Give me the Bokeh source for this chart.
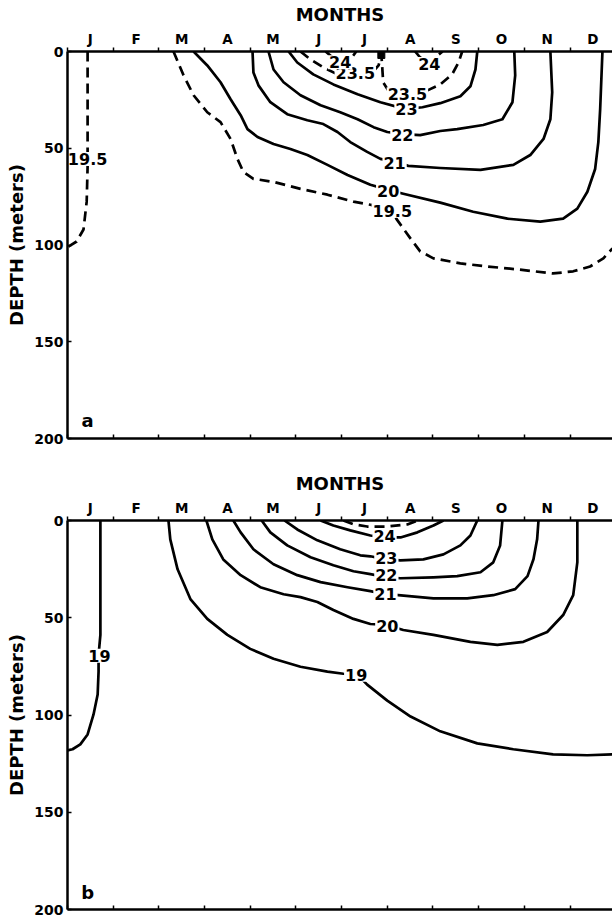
from bokeh.plotting import figure
from bokeh.models import Range1d, LinearAxis, FixedTicker, ColumnDataSource
from bokeh.layouts import column
from bokeh.core.properties import value
from bokeh.embed import file_html
from bokeh.resources import INLINE

MONTH_LABELS = ["J", "F", "M", "A", "M", "J", "J", "A", "S", "O", "N", "D"]
DEPTH_TICKS = [0, 50, 100, 150, 200]

# ---------------- panel a (months from start of Jan, depth in m) ----------------
a_195_left_month = [0.44, 0.44, 0.44, 0.42, 0.35, 0.20, 0.02]
a_195_left_depth = [0, 50.4, 59.6, 77.6, 92.0, 98.2, 100.8]

a_195_main_month = [2.32, 2.54, 2.76, 3.06, 3.35, 3.57, 3.72, 3.85, 4.07, 4.51, 5.10, 5.69, 6.26,
                    6.63, 7.11, 7.20, 7.51, 7.72, 8.01, 8.60, 9.19, 9.85, 10.63, 11.07, 11.44, 11.73, 11.93]
a_195_main_depth = [0, 12.3, 22.6, 31.4, 36.5, 45.2, 55.5, 62.2, 65.8, 67.4, 71.0, 74.0, 77.6,
                    79.2, 82.3, 86.5, 96.7, 103.3, 106.9, 109.5, 111.1, 112.6, 114.7, 113.6, 111.1, 106.9, 101.8]

a_20_month = [2.76, 3.06, 3.35, 3.57, 3.79, 3.94, 4.16, 4.51, 4.88, 5.25, 5.69, 6.13, 6.63, 7.02,
              7.35, 8.16, 8.88, 9.63, 10.35, 10.85, 11.16, 11.38, 11.55, 11.62, 11.66, 11.71]
a_20_depth = [0, 7.2, 15.9, 24.7, 32.9, 40.1, 44.2, 47.8, 50.4, 53.5, 58.6, 63.8, 68.9, 71.5,
              73.5, 78.1, 82.8, 86.4, 87.9, 86.4, 81.2, 72.5, 60.7, 46.8, 29.8, 0]

a_21_month = [4.05, 4.07, 4.18, 4.44, 4.81, 5.25, 5.60, 5.91, 6.19, 6.56, 6.85, 7.18, 7.46, 8.16,
              9.04, 9.76, 10.13, 10.42, 10.57, 10.61, 10.57]
a_21_depth = [0, 10.8, 17.5, 26.2, 32.4, 35.5, 37.5, 41.6, 46.8, 51.9, 55.5, 57.1, 59.1, 60.2,
              61.2, 58.6, 53.5, 45.2, 35.0, 21.1, 0]

a_22_month = [4.40, 4.51, 4.73, 5.10, 5.54, 5.97, 6.35, 6.70, 7.00, 7.33, 7.72, 8.16, 8.53, 9.10,
              9.52, 9.74, 9.80, 9.78]
a_22_depth = [0, 9.3, 15.9, 22.6, 27.8, 31.4, 35.0, 39.1, 41.6, 42.7, 43.2, 41.1, 40.1, 38.0,
              35.0, 26.2, 12.3, 0]

a_23_month = [4.84, 5.03, 5.38, 5.82, 6.35, 6.85, 7.40, 7.77, 8.16, 8.60, 8.82, 8.93, 8.97]
a_23_depth = [0, 5.7, 11.8, 17.0, 22.1, 26.2, 29.8, 28.8, 26.7, 23.1, 18.0, 9.3, 0]

a_235_month = [5.10, 5.32, 5.60, 5.91, 6.26, 6.67, 6.81, 6.87, 6.89, 6.91, 7.02, 7.44, 7.88,
               8.16, 8.42, 8.56, 8.64]
a_235_depth = [0, 4.1, 8.2, 11.8, 11.8, 10.8, 7.2, 1.5, 8.2, 15.9, 20.1, 22.1, 20.1,
               17.0, 11.8, 5.7, 0]

a_24_left_month = [5.65, 5.78, 5.97, 6.24, 6.32]
a_24_left_depth = [0, 2.6, 5.1, 2.6, 0]
a_24_right_month = [7.61, 7.72, 7.92, 8.10, 8.21]
a_24_right_depth = [0, 3.1, 6.2, 2.1, 0]

a_marker_month = [6.87]
a_marker_depth = [1.8]

a_label_text = ["19.5", "19.5", "20", "21", "22", "23", "23.5", "23.5", "24", "24"]
a_label_month = [0.44, 7.11, 7.02, 7.16, 7.33, 7.42, 6.30, 7.44, 5.97, 7.92]
a_label_depth = [55.5, 82.3, 72.0, 57.6, 43.2, 29.8, 11.3, 22.1, 5.6, 6.4]

# ---------------- panel b ----------------
b_19_left_month = [0.72, 0.72, 0.68, 0.68, 0.66, 0.57, 0.44, 0.28, 0.11, 0.0]
b_19_left_depth = [0, 58.8, 69.1, 77.7, 89.5, 99.7, 110.0, 115.1, 117.6, 118.2]

b_19_main_month = [2.21, 2.25, 2.41, 2.69, 3.06, 3.50, 4.00, 4.51, 5.10, 5.69, 6.04, 6.35, 6.56,
                   7.00, 7.51, 8.16, 8.97, 9.76, 10.63, 11.38, 11.93]
b_19_main_depth = [0, 9.7, 25.1, 40.4, 50.6, 58.8, 66.0, 71.1, 75.2, 77.7, 78.8, 79.3, 84.4,
                   92.6, 100.8, 108.4, 114.6, 117.6, 120.2, 120.7, 120.2]

b_20_month = [3.04, 3.17, 3.41, 3.79, 4.22, 4.73, 5.10, 5.47, 5.82, 6.26, 6.63, 6.98, 7.35, 8.01,
              8.82, 9.41, 9.98, 10.50, 10.85, 11.07, 11.16, 11.16]
b_20_depth = [0, 9.7, 20.0, 28.1, 34.3, 37.9, 39.4, 41.9, 46.0, 50.6, 53.2, 53.7, 56.3, 58.8,
              62.4, 63.9, 62.4, 57.3, 48.6, 38.4, 21.5, 0]

b_21_month = [3.63, 3.79, 4.07, 4.51, 5.03, 5.54, 6.13, 6.63, 6.96, 7.24, 8.01, 8.75, 9.32, 9.80,
              10.07, 10.20, 10.28, 10.31]
b_21_depth = [0, 6.1, 14.8, 22.5, 28.1, 31.7, 34.3, 36.3, 37.9, 38.4, 40.0, 40.0, 38.4, 35.3,
              28.6, 19.9, 9.7, 0]

b_22_month = [4.25, 4.44, 4.81, 5.32, 5.82, 6.26, 6.63, 6.98, 7.29, 8.01, 8.53, 9.04, 9.32, 9.47, 9.52]
b_22_depth = [0, 6.1, 12.8, 18.9, 23.0, 26.1, 27.6, 29.2, 29.7, 29.2, 28.6, 26.6, 21.5, 12.8, 0]

b_23_month = [4.75, 5.03, 5.47, 5.97, 6.41, 6.63, 6.96, 7.29, 7.79, 8.23, 8.60, 8.82, 8.97]
b_23_depth = [0, 4.6, 10.2, 14.8, 17.9, 18.4, 20.0, 20.5, 20.0, 17.4, 12.8, 7.7, 0]

b_24_month = [5.54, 5.82, 6.19, 6.63, 6.94, 7.29, 7.66, 8.01, 8.23]
b_24_depth = [0, 2.6, 5.1, 7.7, 8.7, 8.7, 6.1, 2.6, 0]

b_245_month = [6.04, 6.26, 6.56, 7.00, 7.44, 7.66]
b_245_depth = [0, 2.0, 3.1, 3.1, 2.0, 0]

b_label_text = ["19", "19", "20", "21", "22", "23", "24"]
b_label_month = [0.70, 6.32, 7.00, 6.96, 6.98, 6.98, 6.94]
b_label_depth = [69.6, 79.3, 54.2, 37.9, 28.1, 19.4, 8.2]

FONT_NAME = "DejaVu Sans"
FONT = value(FONT_NAME)
LW = 2.7
DASH = "10 6"


def style_axis(ax, label_size):
    ax.major_label_text_font = FONT_NAME
    ax.major_label_text_font_style = "bold"
    ax.major_label_text_font_size = label_size
    ax.major_label_text_color = "black"
    ax.axis_label_text_font = FONT_NAME
    ax.axis_label_text_font_style = "bold"
    ax.axis_label_text_font_size = "18px"
    ax.axis_label_text_color = "black"
    ax.axis_line_width = 2.5
    ax.axis_line_color = "black"
    ax.major_tick_line_color = "black"
    ax.minor_tick_line_color = "black"


def make_fig(height, top, bottom, letter, letter_depth):
    p = figure(width=612, height=height, x_range=Range1d(0, 11.93), y_range=Range1d(200, 0),
               output_backend="svg", toolbar_location=None,
               x_axis_location=None, y_axis_location=None,
               min_border_left=67, min_border_right=0,
               min_border_top=top, min_border_bottom=bottom)
    p.outline_line_color = None
    p.xgrid.grid_line_color = None
    p.ygrid.grid_line_color = None
    p.background_fill_color = "white"
    p.border_fill_color = "white"

    ticks_mid = [i + 0.5 for i in range(12)]
    top_ax = LinearAxis(ticker=FixedTicker(ticks=ticks_mid, minor_ticks=list(range(13))),
                        major_label_overrides={t: lab for t, lab in zip(ticks_mid, MONTH_LABELS)},
                        axis_label="MONTHS")
    style_axis(top_ax, "13.5px")
    top_ax.major_tick_in = 0
    top_ax.major_tick_out = 0
    top_ax.minor_tick_in = 0
    top_ax.minor_tick_out = 4
    top_ax.minor_tick_line_width = 1.5
    top_ax.major_label_standoff = 1
    top_ax.axis_label_standoff = 3
    p.add_layout(top_ax, "above")

    left_ax = LinearAxis(ticker=FixedTicker(ticks=DEPTH_TICKS, minor_ticks=[]), axis_label="DEPTH (meters)")
    style_axis(left_ax, "14px")
    left_ax.major_tick_in = 4
    left_ax.major_tick_out = 0
    left_ax.minor_tick_in = 0
    left_ax.minor_tick_out = 0
    left_ax.major_tick_line_width = 1.5
    left_ax.major_label_standoff = 4
    left_ax.axis_label_standoff = 4
    p.add_layout(left_ax, "left")

    # month boundaries as unlabeled (minor) ticks along the bottom edge
    bot_ax = LinearAxis(ticker=FixedTicker(ticks=[], minor_ticks=list(range(13))))
    style_axis(bot_ax, "13px")
    bot_ax.major_tick_in = 0
    bot_ax.major_tick_out = 0
    bot_ax.minor_tick_in = 4
    bot_ax.minor_tick_out = 0
    bot_ax.minor_tick_line_width = 1.5
    bot_ax.major_label_standoff = 0
    p.add_layout(bot_ax, "below")

    p.text(x=[0.44], y=[letter_depth], text=[letter], text_font=FONT, text_font_style="bold",
           text_font_size="18px", text_align="center", text_baseline="middle")
    return p


def contour(p, xs, ys, dashed=False):
    p.line(xs, ys, line_color="black", line_width=LW, line_join="round", line_cap="butt",
           line_dash=DASH if dashed else "solid")


def labels(p, xs, ys, texts):
    src = ColumnDataSource(dict(x=xs, y=ys, t=texts))
    p.text(x="x", y="y", text="t", source=src, text_font=FONT, text_font_style="bold",
           text_font_size="16px", text_align="center", text_baseline="middle",
           background_fill_color="white", padding=1)


pa = make_fig(469, 49, 31, "a", 190.7)
contour(pa, a_195_left_month, a_195_left_depth, dashed=True)
contour(pa, a_195_main_month, a_195_main_depth, dashed=True)
contour(pa, a_20_month, a_20_depth)
contour(pa, a_21_month, a_21_depth)
contour(pa, a_22_month, a_22_depth)
contour(pa, a_23_month, a_23_depth)
contour(pa, a_235_month, a_235_depth, dashed=True)
contour(pa, a_24_left_month, a_24_left_depth, dashed=True)
contour(pa, a_24_right_month, a_24_right_depth, dashed=True)
pa.scatter(a_marker_month, a_marker_depth, marker="square", size=7, color="black")
labels(pa, a_label_month, a_label_depth, a_label_text)

pb = make_fig(449, 49, 9, "b", 191.3)
contour(pb, b_19_left_month, b_19_left_depth)
contour(pb, b_19_main_month, b_19_main_depth)
contour(pb, b_20_month, b_20_depth)
contour(pb, b_21_month, b_21_depth)
contour(pb, b_22_month, b_22_depth)
contour(pb, b_23_month, b_23_depth)
contour(pb, b_24_month, b_24_depth)
contour(pb, b_245_month, b_245_depth, dashed=True)
labels(pb, b_label_month, b_label_depth, b_label_text)

layout = column(pa, pb, spacing=0)
open("out.html", "w").write(file_html(layout, INLINE))
